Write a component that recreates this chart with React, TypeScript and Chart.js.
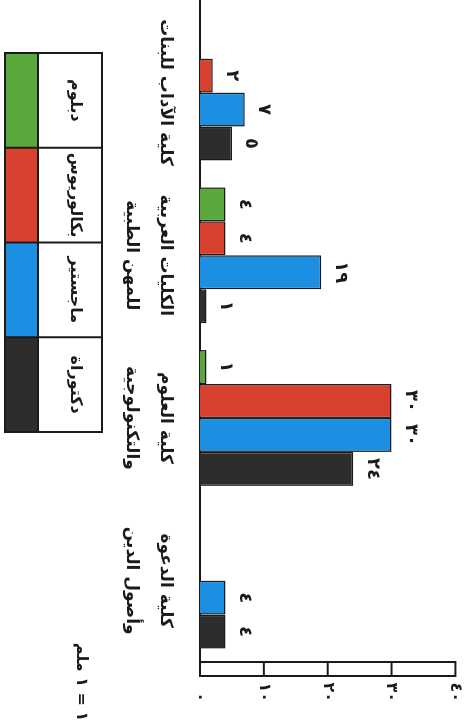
import React, { useEffect, useRef } from "react";
import { Chart, registerables } from "chart.js";

Chart.register(...registerables);

// ---- data ----
const categories: string[][] = [
  ["كلية الآداب للبنات"],
  ["الكليات العربية", "للمهن الطبية"],
  ["كلية العلوم", "والتكنولوجية"],
  ["كلية الدعوة", "وأصول الدين"],
];
const seriesNames = ["دبلوم", "بكالوريوس", "ماجستير", "دكتوراة"];
const diploma = [0, 4, 1, 0];
const bachelor = [2, 4, 30, 0];
const master = [7, 19, 30, 4];
const doctorate = [5, 1, 24, 4];
const yTickValues = [0, 10, 20, 30, 40];
const yTickLabels = ["٠", "١٠", "٢٠", "٣٠", "٤٠"];
const scaleNote = "١ = ١ ملم";

// ---- styles ----
const seriesColors = ["#5aa83c", "#d8402f", "#1c8fe3", "#2d2d2d"];
const FONT = "'DejaVu Sans', sans-serif";
const INK = "#1b1b1b";

const arabicDigits = "٠١٢٣٤٥٦٧٨٩";
const toArabic = (n: number) => String(n).replace(/\d/g, (d) => arabicDigits[Number(d)]);

const decorPlugin = {
  id: "decor",
  beforeDatasetsDraw(chart: any) {
    const { ctx, chartArea, scales } = chart;
    const ys = scales.y;
    const y0 = ys.getPixelForValue(yTickValues[0]);
    const yTop = ys.getPixelForValue(yTickValues[yTickValues.length - 1]);
    const rx = chartArea.right;
    const rw = 14;
    ctx.save();
    ctx.strokeStyle = INK;
    ctx.lineWidth = 2;
    // ruler
    ctx.strokeRect(rx, yTop, rw, y0 - yTop);
    yTickValues.slice(1, -1).forEach((v) => {
      const py = ys.getPixelForValue(v);
      ctx.beginPath();
      ctx.moveTo(rx, py);
      ctx.lineTo(rx + rw, py);
      ctx.stroke();
    });
    // baseline
    ctx.beginPath();
    ctx.moveTo(0, y0);
    ctx.lineTo(rx + rw, y0);
    ctx.stroke();
    ctx.restore();
  },
  afterDatasetsDraw(chart: any) {
    const { ctx } = chart;
    ctx.save();
    ctx.fillStyle = INK;
    ctx.font = `bold 18px ${FONT}`;
    ctx.textAlign = "center";
    ctx.textBaseline = "middle";
    chart.data.datasets.forEach((ds: any, i: number) => {
      const meta = chart.getDatasetMeta(i);
      meta.data.forEach((bar: any, j: number) => {
        const v = ds.data[j];
        if (!v) return;
        ctx.fillText(toArabic(v), bar.x, bar.y - 19);
      });
    });
    ctx.restore();
  },
  afterDraw(chart: any) {
    const { ctx } = chart;
    const x0 = 53, x1 = 432, yT = 363, yS = 427, yB = 460;
    const n = chart.data.datasets.length;
    const cw = (x1 - x0) / n;
    ctx.save();
    chart.data.datasets.forEach((ds: any, i: number) => {
      ctx.fillStyle = ds.backgroundColor;
      ctx.fillRect(x0 + i * cw, yS, cw, yB - yS);
    });
    ctx.strokeStyle = INK;
    ctx.lineWidth = 2;
    ctx.strokeRect(x0, yT, x1 - x0, yB - yT);
    ctx.beginPath();
    ctx.moveTo(x0, yS);
    ctx.lineTo(x1, yS);
    for (let i = 1; i < n; i++) {
      ctx.moveTo(x0 + i * cw, yT);
      ctx.lineTo(x0 + i * cw, yB);
    }
    ctx.stroke();
    ctx.fillStyle = INK;
    ctx.font = `bold 16px ${FONT}`;
    ctx.textAlign = "center";
    ctx.textBaseline = "middle";
    chart.data.datasets.forEach((ds: any, i: number) => {
      ctx.fillText(ds.label, x0 + (i + 0.5) * cw, 390);
    });
    ctx.fillText(scaleNote, 682, 384);
    ctx.restore();
  },
};

export default function App() {
  const ref = useRef<HTMLCanvasElement>(null);
  useEffect(() => {
    const series = [diploma, bachelor, master, doctorate];
    const chart = new Chart(ref.current as HTMLCanvasElement, {
      type: "bar",
      data: {
        labels: categories,
        datasets: series.map((d, i) => ({
          label: seriesNames[i],
          data: d,
          backgroundColor: seriesColors[i],
          borderColor: INK,
          borderWidth: 1.5,
          categoryPercentage: 0.835,
          barPercentage: 1,
        })),
      },
      options: {
        animation: false,
        responsive: false,
        layout: { padding: { left: 10, top: 9, right: 25, bottom: 0 } },
        plugins: { legend: { display: false }, tooltip: { enabled: false } },
        scales: {
          x: {
            type: "category",
            grid: { display: false, drawTicks: false },
            border: { display: false },
            ticks: {
              padding: 18,
              color: INK,
              maxRotation: 0,
              autoSkip: false,
              font: { family: FONT, size: 17, weight: "bold", lineHeight: 2 },
            },
            afterFit: (s: any) => {
              s.height = 200;
            },
          },
          y: {
            position: "right",
            min: 0,
            max: 40,
            grid: { display: false, drawTicks: false },
            border: { display: false },
            ticks: {
              stepSize: 10,
              padding: 0,
              crossAlign: "far",
              color: INK,
              font: { family: FONT, size: 16, weight: "bold" },
              callback: (v: any) => yTickLabels[yTickValues.indexOf(Number(v))],
            },
            afterFit: (s: any) => {
              s.width = 40;
            },
          },
        },
      } as any,
      plugins: [decorPlugin],
    });
    return () => chart.destroy();
  }, []);

  return (
    <div
      style={{
        position: "fixed",
        left: 0,
        top: 0,
        width: 727,
        height: 465,
        transformOrigin: "0 0",
        transform: "translate(465px, 0) rotate(90deg)",
        background: "#fff",
      }}
    >
      <canvas ref={ref} width={727} height={465} style={{ display: "block", width: 727, height: 465 }} />
    </div>
  );
}
